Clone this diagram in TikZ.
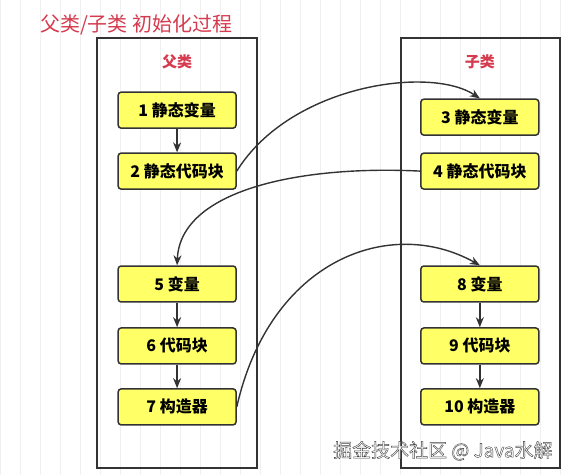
\documentclass[tikz,border=0pt]{standalone}
\usepackage{fontspec}
\setmainfont{Noto Sans CJK SC}
\usepackage{xcolor}
\usepackage{tikz}
\usetikzlibrary{shapes.geometric, arrows.meta, positioning}
\definecolor{boxyellow}{RGB}{255,255,102}
\definecolor{titlered}{RGB}{214,58,78}
\definecolor{linegray}{RGB}{51,51,51}
\tikzstyle{arrow} = [line width=1.4pt, linegray, -{Stealth[length=10pt,width=8pt]}]
\newcommand{\outlinetext}[1]{\special{pdf:code q 2 Tr 0.4 w 0.25 0.25 0.25 RG 1 1 1 rg}#1\special{pdf:code Q}}

\begin{document}
\begin{tikzpicture}[x=1pt, y=-1pt]
    \tikzstyle{stepbox}=[draw=linegray, line width=1.5pt, fill=boxyellow, rounded corners=3pt, minimum width=118pt, minimum height=36pt, font=\fontsize{16}{18}\selectfont\bfseries]
    \tikzstyle{classframe}=[draw=linegray, line width=1.5pt]
    \tikzstyle{classname}=[text=titlered, font=\fontsize{15}{17}\selectfont\bfseries]

    % background grid
    \fill[white] (0,0) rectangle (566,475);
    \draw[black!6, line width=0.5pt] (0,0) grid[step=20] (566,475);
    \useasboundingbox (0,0) rectangle (566,475);

    \node[text=titlered, font=\fontsize{20}{23}\selectfont] (title) at (136,25) {父类/子类 初始化过程};

    % the two classes
    \draw[classframe] (97,38) rectangle (257,468);
    \draw[classframe] (401,38) rectangle (560,468);
    \node[classname] (parent) at (177,62) {父类};
    \node[classname] (child) at (480,62) {子类};

    \node[stepbox] (s1) at (177,110) {1 静态变量};
    \node[stepbox] (s2) at (177,171) {2 静态代码块};
    \node[stepbox] (s5) at (177,284) {5 变量};
    \node[stepbox] (s6) at (177,346) {6 代码块};
    \node[stepbox] (s7) at (177,407) {7 构造器};

    \node[stepbox] (s3) at (480,117) {3 静态变量};
    \node[stepbox] (s4) at (480,171) {4 静态代码块};
    \node[stepbox] (s8) at (480,284) {8 变量};
    \node[stepbox] (s9) at (480,346) {9 代码块};
    \node[stepbox] (s10) at (480,407) {10 构造器};

    \draw[arrow] (s1) -- (s2);
    \draw[arrow] (s5) -- (s6);
    \draw[arrow] (s6) -- (s7);
    \draw[arrow] (s8) -- (s9);
    \draw[arrow] (s9) -- (s10);

    \draw[arrow] (s2.east) .. controls (290,85) and (430,65) .. (s3.north);
    \draw[arrow] (s4.west) .. controls (300,165) and (180,190) .. (s5.north);
    \draw[arrow] (s7.east) .. controls (270,260) and (390,215) .. (s8.north);

    % watermark
    \node[text=white, font=\fontsize{19}{22}\selectfont] (mark) at (443,451) {\outlinetext{掘金技术社区 @ Java水解}};
\end{tikzpicture}
\end{document}
